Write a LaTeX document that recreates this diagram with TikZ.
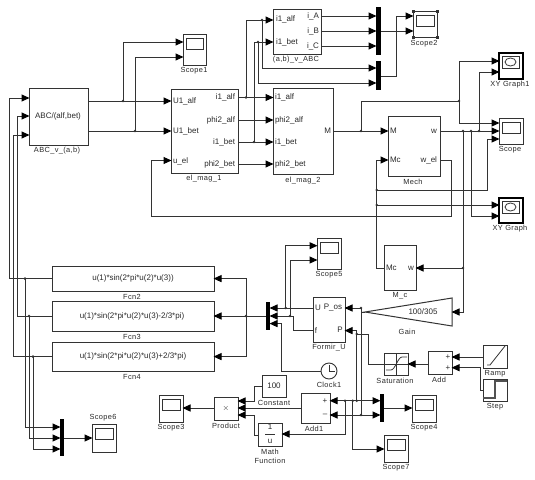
\documentclass[tikz,border=0pt]{standalone}
\usepackage{fontspec}
\setmainfont{Liberation Sans}
\newfontfamily\lblfont[LetterSpace=5]{Liberation Sans}
\usetikzlibrary{arrows.meta,calc}
\definecolor{ln}{HTML}{333333}
\definecolor{tx}{HTML}{2A2A2A}
\newcounter{lblc}
\tikzset{
  blk/.style={draw=ln,line width=1pt,fill=white,inner sep=0pt,outer sep=0pt},
  muxbar/.style={draw=none,fill=black,inner sep=0pt,outer sep=0pt},
  conn/.style={draw=ln,line width=1pt},
  arr/.style={conn,-{Triangle[length=8pt,width=7pt,color=black,fill=black]},shorten >=-0.5pt},
  jn/.style={circle,fill=ln,draw=none,minimum size=2.8pt,inner sep=0pt,outer sep=0pt},
  lab/.style={font=\lblfont\fontsize{7.4}{8}\selectfont,text=tx,inner sep=0pt,outer sep=0pt},
  port/.style={font=\fontsize{8}{9}\selectfont,text=tx,inner sep=0pt,outer sep=0pt},
  icon/.style={draw=ln,line width=0.8pt},
}
% \blk{name}{x1}{y1}{x2}{y2}
\newcommand{\blk}[6][]{%
  \pgfmathsetmacro{\bw}{#5-#3}\pgfmathsetmacro{\bh}{#6-#4}%
  \node[blk,minimum width=\bw pt,minimum height=\bh pt,#1] (#2) at ({(#3+#5)/2},{(#4+#6)/2}) {};}
\newcommand{\muxb}[5]{%
  \pgfmathsetmacro{\bw}{#4-#2}\pgfmathsetmacro{\bh}{#5-#3}%
  \node[muxbar,minimum width=\bw pt,minimum height=\bh pt] (#1) at ({(#2+#4)/2},{(#3+#5)/2}) {};}
\newcommand{\scp}[5]{\blk{#1}{#2}{#3}{#4}{#5}%
  \draw[icon] ($(#2,#3)+(3,4)$) rectangle ($(#4,#3)+(-3,15)$);}
\newcommand{\xyg}[5]{\blk[line width=1.5pt,draw=black]{#1}{#2}{#3}{#4}{#5}%
  \draw[icon] ($(#2,#3)+(3,3)$) rectangle ($(#4,#3)+(-4,15)$);
  \draw[icon] ($({(#2+#4)/2},#3)+(-0.5,9)$) ellipse (5.5pt and 4pt);}
\newcommand{\lbl}[4][]{\stepcounter{lblc}\node[lab,#1] (l\arabic{lblc}) at (#2,#3) {#4};}
\newcommand{\prt}[4][]{\stepcounter{lblc}\node[port,#1] (l\arabic{lblc}) at (#2,#3) {#4};}
\newcommand{\jnc}[3]{\node[jn] (#1) at (#2,#3) {};}
\begin{document}
\begin{tikzpicture}[x=1pt,y=-1pt]
\useasboundingbox (0,0) rectangle (535,479);
\fill[white] (0,0) rectangle (535,479);
% blocks
\blk{abc}{29}{88}{88}{145}
\blk{mag1}{171}{89}{238}{173}
\blk{ab}{273}{9}{321}{54}
\blk{mag2}{273}{88}{333}{174}
\blk{mech}{388}{116}{440}{176}
\blk{mc}{384}{245}{416}{290}
\blk{formir}{313}{297}{345}{342}
\blk{fcntwo}{52}{266}{214}{291}
\blk{fcnthree}{52}{301}{214}{331}
\blk{fcnfour}{52}{342}{214}{371}
\blk{product}{214}{397}{238}{420}
\blk{const}{262}{375}{286}{397}
\blk{math}{258}{423}{282}{446}
\blk{addone}{301}{393}{330}{423}
\blk{sat}{384}{353}{408}{375}
\blk{add}{428}{351}{452}{374}
\blk{ramp}{483}{345}{507}{368}
\blk{stepb}{483}{379}{507}{401}
% scopes
\scp{scopeone}{183}{34}{206}{65}
\scp{scopetwo}{413}{11}{437}{37}
\scp{scope}{499}{118}{523}{144}
\scp{scopefive}{317}{238}{341}{269}
\scp{scopesix}{92}{424}{116}{452}
\scp{scopethree}{159}{395}{183}{422}
\scp{scopefour}{412}{395}{436}{422}
\scp{scopeseven}{384}{435}{408}{462}
\xyg{xyone}{499}{53}{523}{79}
\xyg{xyg}{499}{198}{523}{223}
% scope2 handles
\foreach \hx/\hy in {413/11,437/11,413/37,437/37}{\fill[black!80] (\hx-1.5,\hy-1.5) rectangle (\hx+1.5,\hy+1.5);}
% muxes
\muxb{muxone}{376}{7}{381}{55}
\muxb{muxtwo}{376}{61}{381}{90}
\muxb{muxthree}{60}{419}{64}{456}
\muxb{muxfour}{380}{394}{384}{422}
\muxb{bigmux}{266}{302}{270}{330}
% gain and clock
\coordinate (gainL) at (365,312);
\coordinate (gainR) at (452,312);
\draw[blk] (gainL) -- (452,298) -- (452,326) -- cycle;
\node[circle,draw=ln,line width=0.9pt,fill=white,minimum size=16pt,inner sep=0pt,outer sep=0pt] (clock) at (329,371) {};
\draw[icon] (329,364.5) -- (clock.center) -- (335,371);
% icons
\draw[icon] (396,353) -- (396,375) (384,364) -- (408,364);
\draw[icon] (386,370) -- (391,370) .. controls (395,370) and (398,357) .. (402,357) -- (407,357);
\draw[icon] (487,365) -- (490,365) -- (505,346);
\draw[line width=1.1pt,draw=ln!85] (483,398) -- (495,398) -- (495,381) -- (507,381);
% junctions
\jnc{jA}{123}{101}\jnc{jB}{135}{131}\jnc{jC}{246}{97.5}\jnc{jD}{254}{142}
\jnc{jE}{262}{20}\jnc{jF}{258}{42}\jnc{jG}{361}{131}\jnc{jH}{459}{101}
\jnc{jI}{463}{131}\jnc{jJ}{471}{131}\jnc{jK}{479}{131}\jnc{jL}{463}{268}
\jnc{jM}{376.7}{190}\jnc{jN}{376.7}{205}\jnc{jO}{361}{308}\jnc{jP}{361}{415}
\jnc{jQ}{356.7}{334}\jnc{jR}{356.7}{400.7}\jnc{jS}{352.7}{400.7}\jnc{jT}{345}{400.7}
\jnc{jU}{285.7}{308}\jnc{jV}{290}{316}\jnc{jW}{246}{316}
\jnc{jX}{25}{278.6}\jnc{jY}{29}{316}\jnc{jZ}{33}{356.6}
% connectors
\draw[arr] (abc.east|-0,101) -- (mag1.west|-0,101);
\draw[arr] (jA.center) |- (scopeone.west|-0,42);
\draw[arr] (abc.east|-0,131) -- (mag1.west|-0,131);
\draw[arr] (jB.center) |- (scopeone.west|-0,57);
\draw[arr] (mag1.east|-0,97.5) -- (mag2.west|-0,97.5);
\draw[arr] (mag1.east|-0,120) -- (mag2.west|-0,120);
\draw[arr] (mag1.east|-0,142) -- (mag2.west|-0,142);
\draw[arr] (mag1.east|-0,164) -- (mag2.west|-0,164);
\draw[arr] (jC.center) |- (ab.west|-0,20);
\draw[arr] (jD.center) |- (ab.west|-0,42);
\draw[arr] (jE.center) |- (muxtwo.west|-0,68);
\draw[arr] (jF.center) |- (muxtwo.west|-0,83);
\draw[arr] (ab.east|-0,16) -- (muxone.west|-0,16);
\draw[arr] (ab.east|-0,31) -- (muxone.west|-0,31);
\draw[arr] (ab.east|-0,46) -- (muxone.west|-0,46);
\draw[arr] (muxone.east|-0,31) -- (scopetwo.west|-0,31);
\draw[arr] (muxtwo.east|-0,76) -- (396,76) |- (scopetwo.west|-0,16);
\draw[arr] (mag2.east|-0,131) -- (mech.west|-0,131);
\draw[conn] (jG.center) |- (jH.center);
\draw[arr] (jH.center) |- (xyone.west|-0,61);
\draw[arr] (jH.center) |- (scope.west|-0,123);
\draw[arr] (mech.east|-0,131) -- (scope.west|-0,131);
\draw[arr] (jK.center) |- (xyone.west|-0,72);
\draw[arr] (jJ.center) |- (xyg.west|-0,216);
\draw[arr] (jI.center) |- (gainR);
\draw[arr] (jL.center) -- (mc.east|-0,268);
\draw[arr] (mech.east|-0,160) -- (451,160) |- (151,216) |- (mag1.west|-0,160.5);
\draw[arr] (mc.west|-0,268) -- (376.7,268) |- (mech.west|-0,160);
\draw[arr] (jM.center) -- (487,190) |- (scope.west|-0,139);
\draw[arr] (jN.center) -- (xyg.west|-0,205);
\draw[conn] (gainL) -- (361,312) -- (jO.center);
\draw[arr] (jO.center) -- (formir.east|-0,308);
\draw[conn] (jO.center) -- (jP.center);
\draw[arr] (jP.center) -- (addone.east|-0,415);
\draw[arr] (jP.center) -- (muxfour.west|-0,415);
\draw[conn] (sat.west|-0,364) -- (368.3,364) |- (jQ.center);
\draw[arr] (jQ.center) |- (formir.east|-0,330.6);
\draw[conn] (jQ.center) -- (jR.center);
\draw[arr] (jR.center) -- (muxfour.west|-0,400.7);
\draw[arr] (jR.center) -- (addone.east|-0,400.7);
\draw[arr] (jT.center) |- (math.east|-0,434);
\draw[arr] (jS.center) |- (scopeseven.west|-0,449);
\draw[arr] (add.west|-0,364) -- (sat.east|-0,364);
\draw[arr] (ramp.west|-0,357) -- (add.east|-0,357);
\draw[arr] (stepb.west|-0,390) -- (480,390) |- (add.east|-0,367.7);
\draw[arr] (muxfour.east|-0,408) -- (scopefour.west|-0,408);
\draw[arr] (addone.west|-0,408) -- (product.east|-0,408);
\draw[arr] (const.west|-0,386) -- (254,386) |- (product.east|-0,401);
\draw[arr] (math.west|-0,435) -- (254,435) |- (product.east|-0,415);
\draw[arr] (product.west|-0,408) -- (scopethree.east|-0,408);
\draw[arr] (formir.west|-0,308) -- (bigmux.east|-0,308);
\draw[arr] (jU.center) |- (scopefive.west|-0,245.7);
\draw[arr] (jV.center) |- (scopefive.west|-0,260);
\draw[conn] (formir.west|-0,330.6) -- (293.6,330.6) |- (jV.center);
\draw[arr] (jV.center) -- (bigmux.east|-0,316);
\draw[arr] (clock.west) -- (281.6,371) |- (bigmux.east|-0,323.6);
\draw[arr] (bigmux.west|-0,316) -- (fcnthree.east|-0,316);
\draw[arr] (jW.center) |- (fcntwo.east|-0,278.6);
\draw[arr] (jW.center) |- (fcnfour.east|-0,356.6);
\draw[arr] (fcntwo.west|-0,278.6) -- (9,278.6) |- (abc.west|-0,98);
\draw[arr] (fcnthree.west|-0,316) -- (17,316) |- (abc.west|-0,116);
\draw[arr] (fcnfour.west|-0,356.6) -- (13,356.6) |- (abc.west|-0,135);
\draw[arr] (jX.center) |- (muxthree.west|-0,427);
\draw[arr] (jY.center) |- (muxthree.west|-0,438);
\draw[arr] (jZ.center) |- (muxthree.west|-0,449);
\draw[arr] (muxthree.east|-0,438) -- (scopesix.west|-0,438);
% block labels
\lbl{57}{151}{ABC\_v\_(a,b)}
\lbl{194}{71}{Scope1}
\lbl{204}{179}{el\_mag\_1}
\lbl{296}{60}{(a,b)\_v\_ABC}
\lbl{424}{44}{Scope2}
\lbl{510}{85}{XY Graph1}
\lbl{510}{150}{Scope}
\lbl{510}{229}{XY Graph}
\lbl{303}{181}{el\_mag\_2}
\lbl{413}{182}{Mech}
\lbl{400}{296}{M\_c}
\lbl{407}{332}{Gain}
\lbl{329}{348}{Formir\_U}
\lbl{329}{275}{Scope5}
\lbl{132}{297}{Fcn2}
\lbl{132}{337}{Fcn3}
\lbl{132}{377}{Fcn4}
\lbl{103}{418}{Scope6}
\lbl{171}{428}{Scope3}
\lbl{226}{426}{Product}
\lbl{274}{403}{Constant}
\lbl{270}{452}{Math}
\lbl{270}{461}{Function}
\lbl{314}{429}{Add1}
\lbl{329}{385}{Clock1}
\lbl{395}{381}{Saturation}
\lbl{439}{380}{Add}
\lbl{495}{374}{Ramp}
\lbl{495}{407}{Step}
\lbl{424}{428}{Scope4}
\lbl{396}{468}{Scope7}
% block contents
\prt{58}{116}{ABC/(alf,bet)}
\prt[anchor=west]{173}{101}{U1\_alf}
\prt[anchor=west]{173}{131}{U1\_bet}
\prt[anchor=west]{173}{161}{u\_el}
\prt[anchor=east]{235}{97.5}{i1\_alf}
\prt[anchor=east]{235}{120}{phi2\_alf}
\prt[anchor=east]{235}{142}{i1\_bet}
\prt[anchor=east]{235}{164}{phi2\_bet}
\prt[anchor=west]{276}{19.5}{i1\_alf}
\prt[anchor=west]{276}{42}{i1\_bet}
\prt[anchor=east]{319}{16}{i\_A}
\prt[anchor=east]{319}{31}{i\_B}
\prt[anchor=east]{319}{46}{i\_C}
\prt[anchor=west]{275}{97.5}{i1\_alf}
\prt[anchor=west]{275}{120}{phi2\_alf}
\prt[anchor=west]{275}{142}{i1\_bet}
\prt[anchor=west]{275}{164}{phi2\_bet}
\prt[anchor=east]{331}{131}{M}
\prt[anchor=west]{390}{131}{M}
\prt[anchor=west]{390}{160}{Mc}
\prt[anchor=east]{437}{131}{w}
\prt[anchor=east]{437}{160}{w\_el}
\prt[anchor=west]{386}{268}{Mc}
\prt[anchor=east]{414}{268}{w}
\prt{318}{308}{U}
\prt{333}{308}{P\_os}
\prt{316}{331}{f}
\prt{340}{330}{P}
\prt{448}{357}{+}
\prt{448}{368}{+}
\prt{325}{400.7}{+}
\prt{325}{415}{--}
\prt{133}{278.6}{u(1)*sin(2*pi*u(2)*u(3))}
\prt{132}{316}{u(1)*sin(2*pi*u(2)*u(3)-2/3*pi)}
\prt{133}{356.6}{u(1)*sin(2*pi*u(2)*u(3)+2/3*pi)}
\prt{423}{312}{100/305}
\prt{226}{408}{$\times$}
\prt{274}{386}{100}
\prt{270}{427}{1}
\prt{270}{441.5}{u}
\draw[icon] (265,434) -- (275,434);
\end{tikzpicture}
\end{document}
